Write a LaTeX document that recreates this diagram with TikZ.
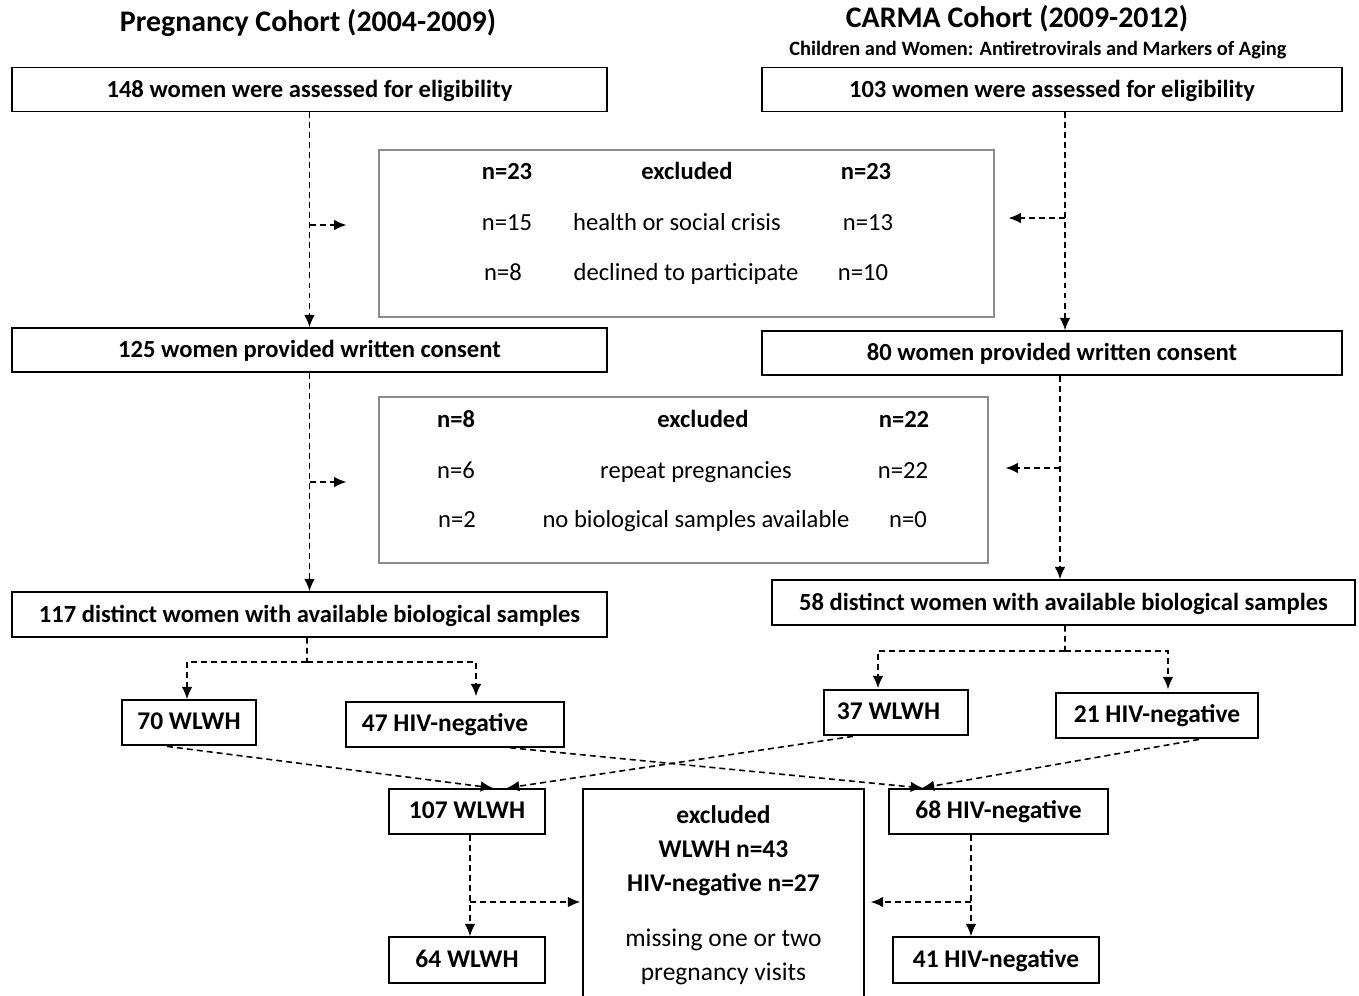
\documentclass[tikz,border=0pt]{standalone}
\usepackage{fontspec}
\setmainfont{Carlito}
\usetikzlibrary{arrows.meta, positioning, calc}
\definecolor{exclgray}{HTML}{8C8C8C}

\begin{document}
\begin{tikzpicture}[x=0.02cm, y=-0.02cm,
                    cohortbox/.style={rectangle, draw, line width=0.85pt, align=center, inner sep=0pt, text height=0.95em, text depth=0.05em, minimum height=0.88cm, font=\fontsize{14}{16}\selectfont\bfseries},
                    groupbox/.style={rectangle, draw, line width=0.85pt, align=center, inner sep=0pt, text height=0.88em, text depth=0.07em, minimum height=0.9cm, font=\fontsize{14.5}{17}\selectfont\bfseries},
                    exclbox/.style={rectangle, draw=exclgray, line width=0.7pt, inner sep=0pt},
                    exclhead/.style={text height=0.9em, text depth=0.06em, font=\fontsize{14}{16}\selectfont\bfseries},
                    excltext/.style={text height=0.9em, text depth=0.06em, font=\fontsize{14}{16}\selectfont},
                    cohorttitle/.style={font=\fontsize{17}{20}\selectfont\bfseries},
                    flow/.style={dashed, dash pattern=on 3.4pt off 2.3pt, line width=0.9pt, -{Latex[length=7pt, width=6pt]}},
                    flowline/.style={dashed, dash pattern=on 3.4pt off 2.3pt, line width=0.9pt}]

    \useasboundingbox (0,0) rectangle (1359,995);

    % Titles
    \node[cohorttitle] (pregtitle) at (308,23) {Pregnancy Cohort (2004-2009)};
    \node[cohorttitle] (carmatitle) at (1017,19) {CARMA Cohort (2009-2012)};
    \node[font=\fontsize{11.6}{13}\selectfont\bfseries] (carmasub) at (1038,50) {Children and Women: Antiretrovirals and Markers of Aging};

    % Main Nodes
    \node[cohortbox, minimum width=11.9cm] (preg1) at (309.5,89.5) {148 women were assessed for eligibility};
    \node[cohortbox, minimum width=11.6cm] (carma1) at (1052,89.5) {103 women were assessed for eligibility};
    \node[cohortbox, minimum width=11.9cm] (preg2) at (309.5,350) {125 women provided written consent};
    \node[cohortbox, minimum width=11.6cm] (carma2) at (1052,353) {80 women provided written consent};
    \node[cohortbox, minimum width=11.9cm, minimum height=0.9cm] (preg3) at (309.5,614.5) {117 distinct women with available biological samples};
    \node[cohortbox, minimum width=11.66cm, minimum height=0.9cm] (carma3) at (1063.5,602.5) {58 distinct women with available biological samples};

    % Exclusion boxes
    \node[exclbox, minimum width=12.3cm, minimum height=3.34cm] (excl1) at (686.5,233.5) {};
    \node[exclhead] (excl1pl) at (507,172) {n=23};
    \node[exclhead] (excl1hd) at (687,172) {excluded};
    \node[exclhead] (excl1cl) at (866,172) {n=23};
    \node[excltext] (excl1pa) at (507,223) {n=15};
    \node[excltext] (excl1ra) at (677,223) {health or social crisis};
    \node[excltext] (excl1ca) at (868,223) {n=13};
    \node[excltext] (excl1pb) at (503,273) {n=8};
    \node[excltext] (excl1rb) at (686,273) {declined to participate};
    \node[excltext] (excl1cb) at (863,273) {n=10};

    \node[exclbox, minimum width=12.18cm, minimum height=3.32cm] (excl2) at (683.5,480) {};
    \node[exclhead] (excl2pl) at (456,420) {n=8};
    \node[exclhead] (excl2hd) at (703,420) {excluded};
    \node[exclhead] (excl2cl) at (904,420) {n=22};
    \node[excltext] (excl2pa) at (456,471) {n=6};
    \node[excltext] (excl2ra) at (696,471) {repeat pregnancies};
    \node[excltext] (excl2ca) at (903,471) {n=22};
    \node[excltext] (excl2pb) at (457,520) {n=2};
    \node[excltext] (excl2rb) at (696,520) {no biological samples available};
    \node[excltext] (excl2cb) at (908,520) {n=0};

    % Group Nodes
    \node[groupbox, minimum width=2.68cm] (preghiv) at (189,722.5) {70 WLWH};
    \node[groupbox, minimum width=4.36cm] (pregneg) at (455,724.5) {47 HIV-negative\hspace{0.4cm}};
    \node[groupbox, minimum width=2.88cm] (carmahiv) at (896,712.5) {37 WLWH\hspace{0.3cm}};
    \node[groupbox, minimum width=4.04cm] (carmaneg) at (1157,715.5) {21 HIV-negative};

    \node[groupbox, minimum width=3.12cm] (allhiv) at (467,811.5) {107 WLWH};
    \node[groupbox, minimum width=4.38cm] (allneg) at (998.5,811.5) {68 HIV-negative};
    \node[rectangle, draw, line width=0.85pt, align=center, inner sep=0pt, minimum width=5.62cm, minimum height=4.24cm, font=\fontsize{14.5}{19.4}\selectfont] (exclvisit) at (723.5,895)
        {\textbf{excluded}\\ \textbf{WLWH n=43}\\ \textbf{HIV-negative n=27}\\[0.42cm] missing one or two\\ pregnancy visits};
    \node[groupbox, minimum width=3.12cm, minimum height=0.92cm] (finalhiv) at (467,960) {64 WLWH};
    \node[groupbox, minimum width=4.12cm, minimum height=0.92cm] (finalneg) at (996,960) {41 HIV-negative};

    % Connecting lines, pregnancy cohort
    \draw[flow] (preg1) -- (preg2);
    \coordinate (pregsplit1) at (310,225);
    \draw[flow, shorten >=0.64cm] (pregsplit1) -- (pregsplit1 -| excl1.west);
    \draw[flow] (preg2) -- (preg3);
    \coordinate (pregsplit2) at (310,482);
    \draw[flow, shorten >=0.64cm] (pregsplit2) -- (pregsplit2 -| excl2.west);

    % Connecting lines, CARMA cohort
    \draw[flow] ([xshift=0.26cm]carma1.south) -- ([xshift=0.26cm]carma1.south |- carma2.north);
    \coordinate (carmasplit1) at (1065,218);
    \draw[flow, shorten >=0.28cm] (carmasplit1) -- (carmasplit1 -| excl1.east);
    \draw[flow] ([xshift=0.16cm]carma2.south) -- ([xshift=0.16cm]carma2.south |- carma3.north);
    \coordinate (carmasplit2) at (1060,468);
    \draw[flow, shorten >=0.34cm] (carmasplit2) -- (carmasplit2 -| excl2.east);

    % Split by HIV status
    \coordinate (pregfork) at (307,662);
    \draw[flowline] ([xshift=-0.05cm]preg3.south) -- (pregfork);
    \draw[flow] (pregfork) -| ([xshift=-0.04cm]preghiv.north);
    \draw[flow, shorten >=0.1cm] (pregfork) -| ([xshift=0.42cm]pregneg.north);
    \coordinate (carmafork) at (1065,651);
    \draw[flowline] ([xshift=0.03cm]carma3.south) -- (carmafork);
    \draw[flow, shorten >=0.02cm] (carmafork) -| ([xshift=-0.36cm]carmahiv.north);
    \draw[flow, shorten >=0.06cm] (carmafork) -| ([xshift=0.22cm]carmaneg.north);

    % Merging the cohorts
    \draw[flow, shorten <=0.1cm, shorten >=0.04cm] ([xshift=-0.54cm]preghiv.south) -- ([xshift=0.56cm]allhiv.north);
    \draw[flow, shorten <=0.08cm, shorten >=0.04cm] ([xshift=-0.78cm]carmahiv.south) -- ([xshift=0.76cm]allhiv.north);
    \draw[flow, shorten >=0.04cm] ([xshift=1.1cm]pregneg.south) -- ([xshift=-1.47cm]allneg.north);
    \draw[flow, shorten <=0.08cm, shorten >=0.04cm] ([xshift=0.92cm]carmaneg.south) -- ([xshift=-1.57cm]allneg.north);

    % Missing visits
    \draw[flow] ([xshift=0.06cm]allhiv.south) -- ([xshift=0.06cm]finalhiv.north);
    \coordinate (hivsplit) at (470,902);
    \draw[flow, shorten >=0.04cm] (hivsplit) -- (hivsplit -| exclvisit.west);
    \draw[flow] ([xshift=-0.55cm]allneg.south) -- ([xshift=-0.55cm]allneg.south |- finalneg.north);
    \coordinate (negsplit) at (971,902);
    \draw[flow, shorten >=0.12cm] (negsplit) -- (negsplit -| exclvisit.east);

\end{tikzpicture}
\end{document}
